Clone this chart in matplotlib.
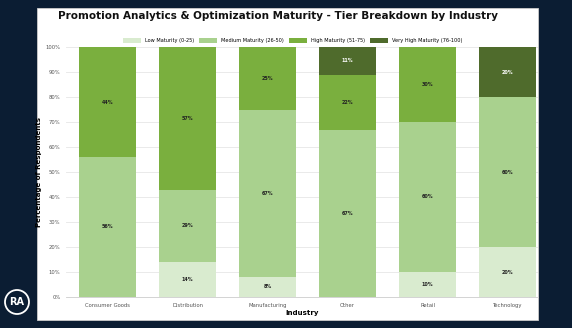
import numpy as np
import matplotlib.pyplot as plt
from matplotlib.patches import Rectangle, Ellipse

industries = ["Consumer Goods", "Distribution", "Manufacturing", "Other", "Retail", "Technology"]
low = [0, 14, 8, 0, 10, 20]
medium = [56, 29, 67, 67, 60, 60]
high = [44, 57, 25, 22, 30, 0]
very_high = [0, 0, 0, 11, 0, 20]

tiers = ["Low Maturity (0-25)", "Medium Maturity (26-50)", "High Maturity (51-75)", "Very High Maturity (76-100)"]
colors = ["#d9ebcf", "#a9d18e", "#7aaf3e", "#4f6b2c"]
text_colors = ["#222222", "#222222", "#222222", "#ffffff"]

W, H = 572, 328
fig = plt.figure(figsize=(W / 100, H / 100), dpi=100)
fig.patch.set_facecolor("#0b1d33")

# background layer: white panel + logo
bg = fig.add_axes([0, 0, 1, 1], zorder=-1)
bg.set_xlim(0, W)
bg.set_ylim(H, 0)
bg.axis("off")
bg.add_patch(Rectangle((37, 8), 501, 312, facecolor="white", edgecolor="#cccccc", linewidth=0.6))
bg.add_patch(Ellipse((17, 302), 24, 24, facecolor="#0b1d33", edgecolor="white", linewidth=1.3))
bg.text(17, 302, "RA", color="white", fontsize=7, fontweight="bold", ha="center", va="center")

ax = fig.add_axes([66 / W, 1 - 297 / H, 472 / W, 250 / H])
ax.set_facecolor("white")

x = np.arange(len(industries))
bottom = np.zeros(len(industries))
for vals, name, c, tc in zip([low, medium, high, very_high], tiers, colors, text_colors):
    vals = np.array(vals, dtype=float)
    ax.bar(x, vals, 0.71, bottom=bottom, color=c, label=name, zorder=2)
    for xi, v, b in zip(x, vals, bottom):
        if v > 0:
            ax.text(xi, b + v / 2, f"{int(v)}%", ha="center", va="center",
                    fontsize=3.5, fontweight="bold", color=tc, zorder=3)
    bottom += vals

ax.set_xlim(-0.52, 5.38)
ax.set_ylim(0, 100)
ax.set_yticks(np.arange(0, 101, 10))
ax.set_yticklabels([f"{t}%" for t in range(0, 101, 10)])
ax.set_xticks(x)
ax.set_xticklabels(industries)
ax.tick_params(axis="both", labelsize=3.8, colors="#555555", length=0, pad=4)
ax.grid(axis="y", color="#e6e6e6", linewidth=0.6, zorder=0)
for s in ["top", "right", "left"]:
    ax.spines[s].set_visible(False)
ax.spines["bottom"].set_color("#cccccc")
ax.spines["bottom"].set_linewidth(0.6)

ax.set_xlabel("Industry", fontsize=5, fontweight="bold", labelpad=2)
ax.set_ylabel("Percentage of Respondents", fontsize=5, fontweight="bold")
ax.yaxis.set_label_coords(-0.05, 0.5)

ax.legend(loc="lower center", bbox_to_anchor=(0.48, 1.0), ncol=4, frameon=False,
          fontsize=3.6, handlelength=3.6, handleheight=1, columnspacing=1.0, borderaxespad=0.4)

fig.text(278 / W, 1 - 16 / H, "Promotion Analytics & Optimization Maturity - Tier Breakdown by Industry",
         ha="center", va="center", fontsize=7.5, fontweight="bold", color="#111111")

fig.savefig("out.png", dpi=100, facecolor=fig.get_facecolor())
